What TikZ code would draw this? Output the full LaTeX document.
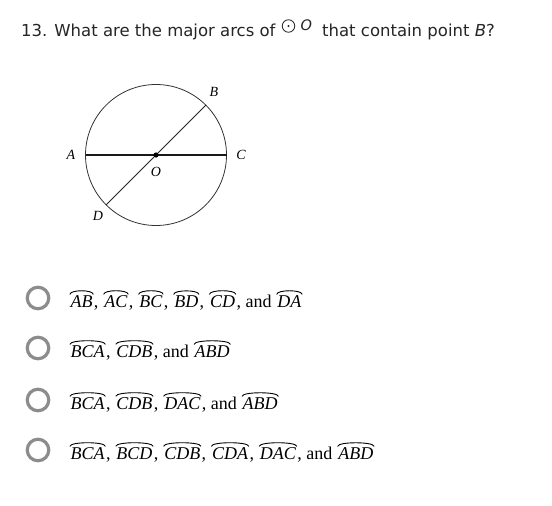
\documentclass[tikz,border=0pt]{standalone}
\usepackage{fontspec}
\setmainfont{Liberation Serif}
\newfontfamily\titlefont{DejaVu Sans}
\newcommand\arcover[1]{\tikz[baseline=(t.base)]{\node[inner ysep=0pt,inner xsep=1.4pt,outer sep=0pt](t){\textit{#1}};\draw[line width=0.9pt,line cap=round] ([xshift=0.8pt,yshift=1.4pt]t.north west) .. controls ([xshift=1.4pt,yshift=6pt]t.north west) and ([xshift=-1.4pt,yshift=6pt]t.north east) .. ([xshift=-0.8pt,yshift=1.4pt]t.north east);}}
\tikzset{
  titletxt/.style={inner sep=0pt,anchor=base west,font=\titlefont\fontsize{16.5}{19}\selectfont,text=black!85},
  lbl/.style={inner sep=0pt,font=\fontsize{14}{16}\selectfont\itshape},
  radio/.style={circle,draw=black!45,line width=3.2pt,minimum size=21.5pt,inner sep=0pt},
  opt/.style={inner sep=0pt,anchor=base west,font=\fontsize{18}{20}\selectfont},
}
\begin{document}
\begin{tikzpicture}[x=1pt,y=-1pt]
\useasboundingbox[fill=white] (0,0) rectangle (552,506);
% title
\node[titletxt] (t1) at (21,36) {13. What are the major arcs of};
\node[circle,draw=black!85,line width=0.8pt,minimum size=12.5pt,inner sep=0pt] (odot) at (288.5,26) {};
\fill[black!85] (odot.center) circle (1.1);
\node[inner sep=0pt,anchor=base west,font=\titlefont\fontsize{14.5}{16}\selectfont\itshape,text=black!85] (oo) at (300.5,30.5) {O};
\node[titletxt] (t2) at (322,36) {that contain point \textit{B}?};
% circle diagram
\coordinate (O) at (156,155);
\draw[black!80,line width=0.8pt] (O) circle (70.5);
\coordinate (A) at (85.5,155);
\coordinate (C) at (226.5,155);
\coordinate (B) at (205.9,105.1);
\coordinate (D) at (106.1,204.9);
\draw[black!90,line width=1.1pt] (A) -- (C);
\draw[black!85,line width=0.8pt] (B) -- (D);
\fill (O) circle (2.6);
\node[lbl] (lA) at (71,155) {A};
\node[lbl] (lC) at (241,155) {C};
\node[lbl] (lB) at (214,92) {B};
\node[lbl] (lD) at (98,216) {D};
\node[lbl] (lO) at (156,172) {O};
% options
\node[radio] (r1) at (38,298) {};
\node[radio] (r2) at (38,348) {};
\node[radio] (r3) at (38,400) {};
\node[radio] (r4) at (38,450) {};
\node[opt] (o1) at (69,307.5) {\arcover{AB}, \arcover{AC}, \arcover{BC}, \arcover{BD}, \arcover{CD}, and \arcover{DA}};
\node[opt] (o2) at (69,357.5) {\arcover{BCA}, \arcover{CDB}, and \arcover{ABD}};
\node[opt] (o3) at (69,409.5) {\arcover{BCA}, \arcover{CDB}, \arcover{DAC}, and \arcover{ABD}};
\node[opt] (o4) at (69,459.5) {\arcover{BCA}, \arcover{BCD}, \arcover{CDB}, \arcover{CDA}, \arcover{DAC}, and \arcover{ABD}};
\end{tikzpicture}
\end{document}
